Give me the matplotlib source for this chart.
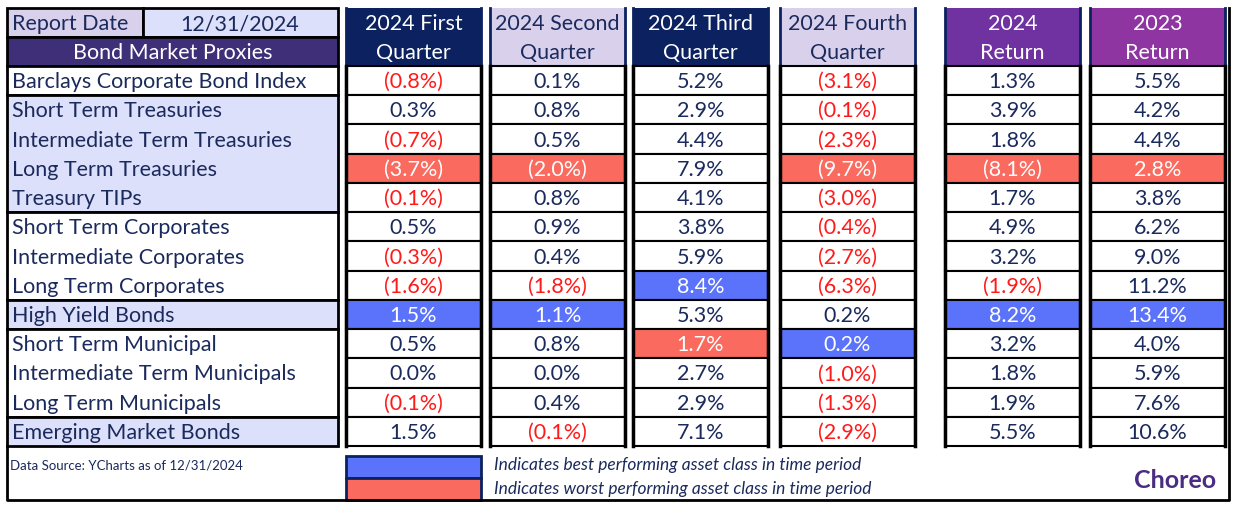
import matplotlib.pyplot as plt
from matplotlib.patches import Rectangle

plt.rcParams['font.family'] = ['Lato', 'DejaVu Sans']

# ---- data ----
report_date = "12/31/2024"
row_labels = ["Barclays Corporate Bond Index", "Short Term Treasuries",
              "Intermediate Term Treasuries", "Long Term Treasuries", "Treasury TIPs",
              "Short Term Corporates", "Intermediate Corporates", "Long Term Corporates",
              "High Yield Bonds", "Short Term Municipal", "Intermediate Term Municipals",
              "Long Term Municipals", "Emerging Market Bonds"]
col_headers = [("2024 First", "Quarter"), ("2024 Second", "Quarter"),
               ("2024 Third", "Quarter"), ("2024 Fourth", "Quarter"),
               ("2024", "Return"), ("2023", "Return")]
q1 = [-0.8, 0.3, -0.7, -3.7, -0.1, 0.5, -0.3, -1.6, 1.5, 0.5, 0.0, -0.1, 1.5]
q2 = [0.1, 0.8, 0.5, -2.0, 0.8, 0.9, 0.4, -1.8, 1.1, 0.8, 0.0, 0.4, -0.1]
q3 = [5.2, 2.9, 4.4, 7.9, 4.1, 3.8, 5.9, 8.4, 5.3, 1.7, 2.7, 2.9, 7.1]
q4 = [-3.1, -0.1, -2.3, -9.7, -3.0, -0.4, -2.7, -6.3, 0.2, 0.2, -1.0, -1.3, -2.9]
ret_2024 = [1.3, 3.9, 1.8, -8.1, 1.7, 4.9, 3.2, -1.9, 8.2, 3.2, 1.8, 1.9, 5.5]
ret_2023 = [5.5, 4.2, 4.4, 2.8, 3.8, 6.2, 9.0, 11.2, 13.4, 4.0, 5.9, 7.6, 10.6]
columns = [q1, q2, q3, q4, ret_2024, ret_2023]
best_rows = [8, 8, 7, 9, 8, 8]
worst_rows = [3, 3, 9, 3, 3, 3]
# row label groups: (first row, last row, shaded)
label_groups = [(0, 0, False), (1, 4, True), (5, 7, False), (8, 8, True),
                (9, 11, False), (12, 12, True)]
source_note = "Data Source: YCharts as of 12/31/2024"
legend_best = "Indicates best performing asset class in time period"
legend_worst = "Indicates worst performing asset class in time period"

# ---- styles ----
navy = "#0B2160"
text_navy = "#1B2A5C"
lav = "#D9D1EC"
lav_blue = "#DCE0FA"
proxies = "#3F2F78"
hdr_fill = [navy, lav, navy, lav, "#7032A0", "#8E35A2"]
hdr_text = ["white", text_navy, "white", text_navy, "white", "white"]
best_c = "#5B73FA"
worst_c = "#FA6A5E"
neg_c = "#FF1A1A"
fs = 15.5

W, H = 1234, 509
fig = plt.figure(figsize=(W / 100, H / 100), dpi=100)
ax = fig.add_axes([0, 0, 1, 1])
ax.set_xlim(0, W)
ax.set_ylim(H, 0)
ax.axis("off")

col_x = [346, 490, 633, 780, 945, 1090]
col_w = 135
top, mid, body_top = 8, 37, 66
rh = (446 - body_top) / len(row_labels)
lab_x0, lab_x1 = 7, 338
dy = 1.5  # text sits a touch below cell centre


def box(x, y, w, h, fc, lw=1.5, ec="black", z=1):
    ax.add_patch(Rectangle((x, y), w, h, facecolor=fc, edgecolor=ec, lw=lw, zorder=z))


# header block on the left
box(lab_x0, top, 136, mid - top, lav, lw=2)
box(lab_x0 + 136, top, lab_x1 - lab_x0 - 136, mid - top, lav_blue, lw=2)
box(lab_x0, mid, lab_x1 - lab_x0, body_top - mid, proxies, lw=2)
ax.text(12, (top + mid) / 2 + dy, "Report Date", fontsize=fs, color=text_navy, va="center")
ax.text(240, (top + mid) / 2 + dy, report_date, fontsize=fs, color=text_navy,
        va="center", ha="center")
ax.text((lab_x0 + lab_x1) / 2, (mid + body_top) / 2 + dy, "Bond Market Proxies",
        fontsize=fs, color="white", va="center", ha="center")

# row labels
for r0, r1, shaded in label_groups:
    y0 = body_top + r0 * rh
    box(lab_x0, y0, lab_x1 - lab_x0, (r1 - r0 + 1) * rh,
        lav_blue if shaded else "white", lw=2)
for i, lab in enumerate(row_labels):
    ax.text(12, body_top + (i + 0.5) * rh + dy, lab, fontsize=fs, color=text_navy,
            va="center")

# data columns
for c, vals in enumerate(columns):
    x = col_x[c]
    box(x, top, col_w, body_top - top, hdr_fill[c], lw=0)
    ax.plot([x, x], [top, body_top], color=navy, lw=2, zorder=2)
    ax.plot([x + col_w, x + col_w], [top, body_top], color=navy, lw=2, zorder=2)
    ax.text(x + col_w / 2, (top + mid) / 2 + dy, col_headers[c][0], fontsize=fs,
            color=hdr_text[c], ha="center", va="center")
    ax.text(x + col_w / 2, (mid + body_top) / 2 + dy, col_headers[c][1], fontsize=fs,
            color=hdr_text[c], ha="center", va="center")
    for i, v in enumerate(vals):
        y0 = body_top + i * rh
        if i == best_rows[c]:
            fc, tc = best_c, "white"
        elif i == worst_rows[c]:
            fc, tc = worst_c, "white"
        else:
            fc, tc = "white", (neg_c if v < 0 else text_navy)
        box(x, y0, col_w, rh, fc, lw=1.5)
        s = f"({abs(v):.1f}%)" if v < 0 else f"{v:.1f}%"
        ax.text(x + col_w / 2, y0 + rh / 2 + dy, s, fontsize=fs, color=tc,
                ha="center", va="center", zorder=3)
    ax.plot([x, x], [body_top, 446], color="black", lw=2.5, zorder=2)
    ax.plot([x + col_w, x + col_w], [body_top, 446], color="black", lw=2.5, zorder=2)

# outer frame
ax.plot([lab_x0, lab_x0, 1229, 1229], [446, 500, 500, top], color="black", lw=2, zorder=4)

# footer
ax.text(10, 465, source_note, fontsize=9.5, color=text_navy, va="center")
box(col_x[0], 456, col_w, 22, best_c, lw=2, ec=navy, z=2)
box(col_x[0], 478, col_w, 22, worst_c, lw=2, ec=navy, z=2)
ax.text(494, 465, legend_best, fontsize=12.5, style="italic", color=text_navy, va="center")
ax.text(494, 489, legend_worst, fontsize=12.5, style="italic", color=text_navy, va="center")
ax.text(1216, 481, "Choreo", fontsize=18, color="#4A2C82", ha="right", va="center",
        fontweight="bold")

fig.savefig("out.png", dpi=100)
